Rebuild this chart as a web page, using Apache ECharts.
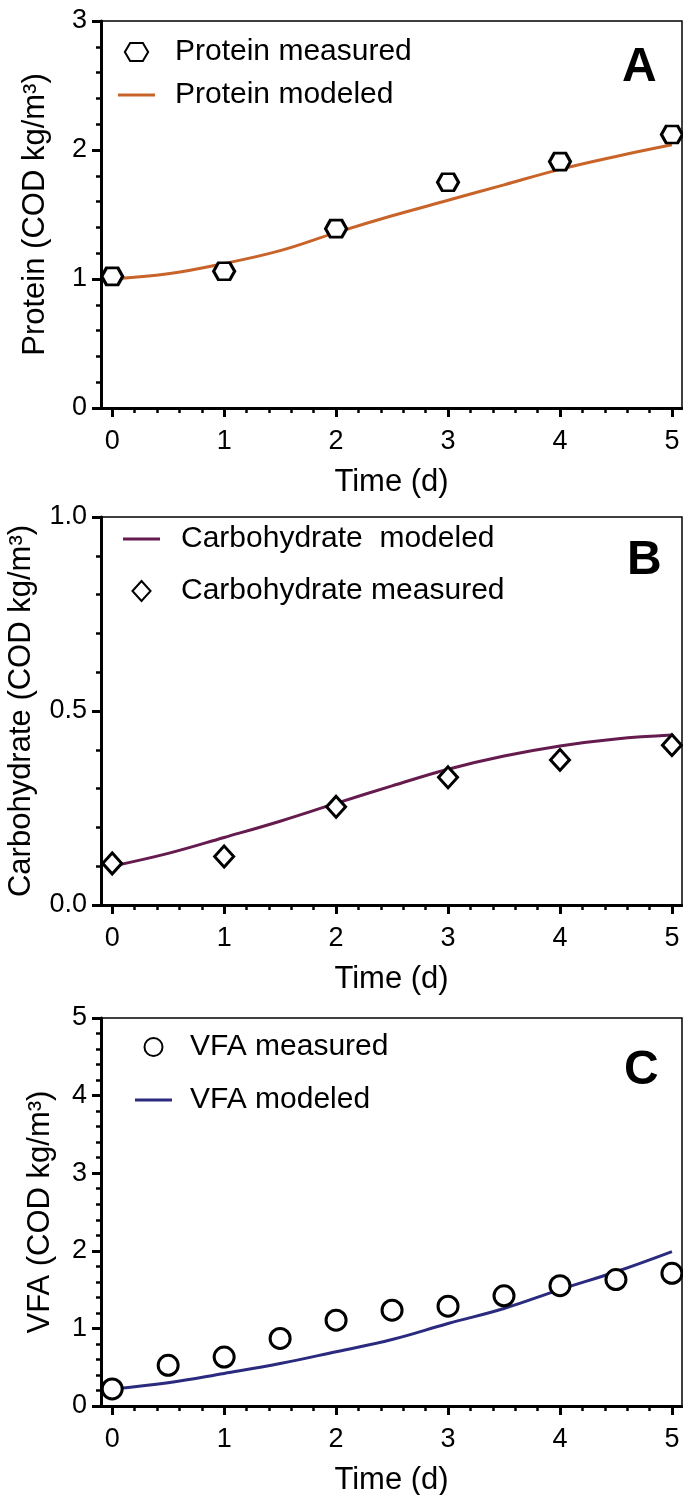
<!DOCTYPE html>
<html>
<head>
<meta charset="utf-8">
<script src="https://cdn.jsdelivr.net/npm/echarts@6/dist/echarts.min.js"></script>
<style>
  html, body { margin: 0; padding: 0; background: #fff; }
  #chart { width: 683px; height: 1495px; }
</style>
</head>
<body>
<div id="chart"></div>
<script>
// sampling times (d)
var daysMeasured = [0, 1, 2, 3, 4, 5];
var daysHalf = [0, 0.5, 1, 1.5, 2, 2.5, 3, 3.5, 4, 4.5, 5];

// panel A - protein
var proteinMeasured = [1.02, 1.06, 1.39, 1.75, 1.91, 2.12];
var proteinModeled = [1.00, 1.04, 1.12, 1.22, 1.36, 1.49, 1.61, 1.73, 1.85, 1.95, 2.04];

// panel B - carbohydrate
var carbMeasured = [0.107, 0.125, 0.253, 0.329, 0.374, 0.412];
var carbModeled = [0.100, 0.133, 0.174, 0.216, 0.262, 0.307, 0.350, 0.384, 0.410, 0.428, 0.438];

// panel C - VFA
var vfaMeasured = [0.22, 0.525, 0.63, 0.87, 1.106, 1.235, 1.286, 1.42, 1.55, 1.63, 1.71];
var vfaModeled = [0.22, 0.30, 0.42, 0.547, 0.70, 0.857, 1.063, 1.257, 1.50, 1.73, 1.99];

// x axis ticks
var majorTicks = [0, 1, 2, 3, 4, 5];
var minorTicks = [0, 0.2, 0.4, 0.6, 0.8, 1, 1.2, 1.4, 1.6, 1.8, 2, 2.2, 2.4, 2.6, 2.8,
                  3, 3.2, 3.4, 3.6, 3.8, 4, 4.2, 4.4, 4.6, 4.8, 5];

var FONT = "'Liberation Sans', Arial, sans-serif";
var hexagon = 'path://M0,8.5 L5,0 L17,0 L22,8.5 L17,17 L5,17 Z';
var diamondIcon = 'path://M9.5,0 L19,10.5 L9.5,21 L0,10.5 Z';
var lineIcon = 'path://M0,0 L37,0 L37,3 L0,3 Z';

function pairs(xs, ys) {
  return xs.map(function (x, i) { return [x, ys[i]]; });
}

var grids = [
  { left: 101, top: 21, width: 581, height: 387 },
  { left: 101, top: 517, width: 581, height: 388 },
  { left: 101, top: 1018, width: 581, height: 388 }
];

function mainX(i) {
  return {
    type: 'value', gridIndex: i, position: 'bottom', min: -0.1, max: 5.09,
    name: 'Time (d)', nameLocation: 'middle', nameGap: 59,
    nameTextStyle: { fontFamily: FONT, fontSize: 31, color: '#000' },
    axisLine: { show: true, onZero: false, lineStyle: { color: '#000', width: 3 } },
    axisTick: { show: true, customValues: majorTicks, length: 9, lineStyle: { color: '#000', width: 3 } },
    axisLabel: { customValues: majorTicks, margin: 20, fontFamily: FONT, fontSize: 27, color: '#000' },
    splitLine: { show: false }
  };
}
function minorX(i) {
  return {
    type: 'value', gridIndex: i, position: 'bottom', min: -0.1, max: 5.09,
    axisLine: { show: false, onZero: false },
    axisTick: { show: true, customValues: minorTicks, length: 5, lineStyle: { color: '#000', width: 2.5 } },
    axisLabel: { show: false },
    splitLine: { show: false }
  };
}
function yAx(i, max, interval, name, gap, digits) {
  return {
    type: 'value', gridIndex: i, min: 0, max: max, interval: interval,
    name: name, nameLocation: 'middle', nameRotate: 90, nameGap: gap,
    nameTextStyle: { fontFamily: FONT, fontSize: 31, color: '#000' },
    axisLine: { show: true, onZero: false, lineStyle: { color: '#000', width: 3 } },
    axisTick: { show: true, length: 9, lineStyle: { color: '#000', width: 3 } },
    minorTick: { show: true, splitNumber: 5, length: 5, lineStyle: { color: '#000', width: 2.5 } },
    axisLabel: {
      margin: 14, fontFamily: FONT, fontSize: 27, color: '#000',
      formatter: function (v) { return v.toFixed(digits); }
    },
    splitLine: { show: false }, minorSplitLine: { show: false }
  };
}

function legend(left, top, gap, pad, iconH, items) {
  return {
    orient: 'vertical', left: left, top: top, itemGap: gap, padding: 0,
    itemWidth: 37, itemHeight: iconH,
    textStyle: { fontFamily: FONT, fontSize: 30, color: '#000', lineHeight: 30, padding: [0, 0, 0, pad] },
    data: items
  };
}

function markerStyle() {
  return { color: '#fff', borderColor: '#000', borderWidth: 3, opacity: 1 };
}

var option = {
  animation: false,
  backgroundColor: '#fff',
  grid: grids.map(function (g) {
    return Object.assign({
      show: true, borderColor: '#000', borderWidth: 1.5, backgroundColor: 'transparent',
      outerBoundsMode: 'none', containLabel: false
    }, g);
  }),
  xAxis: [mainX(0), mainX(1), mainX(2), minorX(0), minorX(1), minorX(2)],
  yAxis: [
    yAx(0, 3, 1, 'Protein (COD kg/m³)', 50, 0),
    yAx(1, 1, 0.5, 'Carbohydrate (COD kg/m³)', 64, 1),
    yAx(2, 5, 1, 'VFA (COD kg/m³)', 45, 0)
  ],
  legend: [
    legend(118, 37, 13, 15, 18, [
      { name: 'Protein measured', icon: hexagon },
      { name: 'Protein modeled', icon: lineIcon }
    ]),
    legend(123, 524, 22, 16, 20, [
      { name: 'Carbohydrate  modeled', icon: lineIcon },
      { name: 'Carbohydrate measured', icon: diamondIcon }
    ]),
    legend(135, 1032, 23, 13, 18, [
      { name: 'VFA measured', icon: 'circle' },
      { name: 'VFA modeled', icon: lineIcon }
    ])
  ],
  graphic: [
    { type: 'text', left: 639 - 17, top: 44, style: { text: 'A', font: 'bold 48px ' + FONT, fill: '#000' } },
    { type: 'text', left: 643 - 16, top: 537, style: { text: 'B', font: 'bold 48px ' + FONT, fill: '#000' } },
    { type: 'text', left: 641 - 17, top: 1047, style: { text: 'C', font: 'bold 48px ' + FONT, fill: '#000' } }
  ],
  series: [
    {
      name: 'Protein modeled', type: 'line', xAxisIndex: 0, yAxisIndex: 0,
      data: pairs(daysHalf, proteinModeled), smooth: 0.4, symbol: 'none',
      lineStyle: { color: '#c8642a', width: 3 }, itemStyle: { color: '#c8642a' }, z: 2
    },
    {
      name: 'Protein measured', type: 'scatter', xAxisIndex: 0, yAxisIndex: 0,
      data: pairs(daysMeasured, proteinMeasured), symbol: hexagon, symbolSize: [21, 17],
      itemStyle: markerStyle(), clip: false, z: 3
    },
    {
      name: 'Carbohydrate  modeled', type: 'line', xAxisIndex: 1, yAxisIndex: 1,
      data: pairs(daysHalf, carbModeled), smooth: 0.4, symbol: 'none',
      lineStyle: { color: '#661b4e', width: 3 }, itemStyle: { color: '#661b4e' }, z: 2
    },
    {
      name: 'Carbohydrate measured', type: 'scatter', xAxisIndex: 1, yAxisIndex: 1,
      data: pairs(daysMeasured, carbMeasured), symbol: 'diamond', symbolSize: [19, 21],
      itemStyle: markerStyle(), clip: false, z: 3
    },
    {
      name: 'VFA modeled', type: 'line', xAxisIndex: 2, yAxisIndex: 2,
      data: pairs(daysHalf, vfaModeled), smooth: 0.4, symbol: 'none',
      lineStyle: { color: '#2a2a7e', width: 3 }, itemStyle: { color: '#2a2a7e' }, z: 2
    },
    {
      name: 'VFA measured', type: 'scatter', xAxisIndex: 2, yAxisIndex: 2,
      data: pairs(daysHalf, vfaMeasured), symbol: 'circle', symbolSize: 20,
      itemStyle: markerStyle(), clip: false, z: 3
    }
  ]
};

var chart = echarts.init(document.getElementById('chart'));
chart.setOption(option);
</script>
</body>
</html>
